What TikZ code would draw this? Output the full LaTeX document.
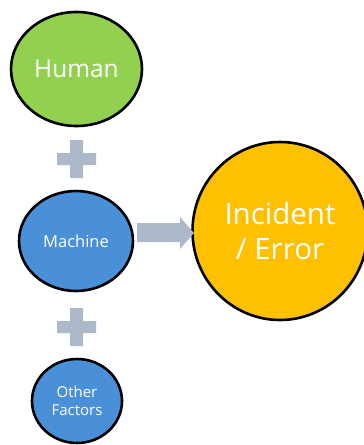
\documentclass[tikz,border=0pt]{standalone}
\usepackage{fontspec}
\setmainfont{Open Sans}
\usetikzlibrary{shapes.geometric}

\definecolor{humangreen}{HTML}{92D050}
\definecolor{machineblue}{HTML}{4A90D9}
\definecolor{errorgold}{HTML}{FFC000}
\definecolor{plusgrey}{HTML}{ADB9CA}

\tikzset{
  factor/.style={ellipse, draw=black, line width=2.6pt, inner sep=0pt,
    text=white, align=center},
  plussign/.style={fill=plusgrey, draw=none}
}

\begin{document}
\begin{tikzpicture}[x=1pt,y=1pt,yscale=-1,xscale=1]
\useasboundingbox (0,0) rectangle (364,445);
\clip (0,0) rectangle (364,445);

% Human
\node [factor, fill=humangreen, minimum width=131, minimum height=114, font=\fontsize{24.5}{28}\selectfont] (human) at (76.5,69) {Human};
% Machine
\node [factor, fill=machineblue, minimum width=114, minimum height=100, font=\fontsize{16.5}{20}\selectfont] (machine) at (76,241) {Machine};
% Other Factors
\node [factor, fill=machineblue, minimum width=90, minimum height=84, font=\fontsize{15}{18.5}\selectfont] (others) at (77,401) {Other\\Factors};
% Incident / Error
\node [factor, fill=errorgold, minimum width=175, minimum height=178, font=\fontsize{29.5}{35}\selectfont] (incident) at (280,231) {Incident\\/ Error};

% Plus signs
\fill [plussign] (70,140) -- (83,140) -- (83,153) -- (96,153) -- (96,165) -- (83,165) -- (83,178) -- (70,178) -- (70,165) -- (57,165) -- (57,153) -- (70,153) -- cycle;
\fill [plussign] (70,308) -- (83,308) -- (83,321) -- (96,321) -- (96,333) -- (83,333) -- (83,346) -- (70,346) -- (70,333) -- (57,333) -- (57,321) -- (70,321) -- cycle;

% Block arrow
\fill [plussign] (137,223) -- (180,223) -- (180,217) -- (194,233) -- (180,249) -- (180,242) -- (137,242) -- cycle;

\end{tikzpicture}
\end{document}
